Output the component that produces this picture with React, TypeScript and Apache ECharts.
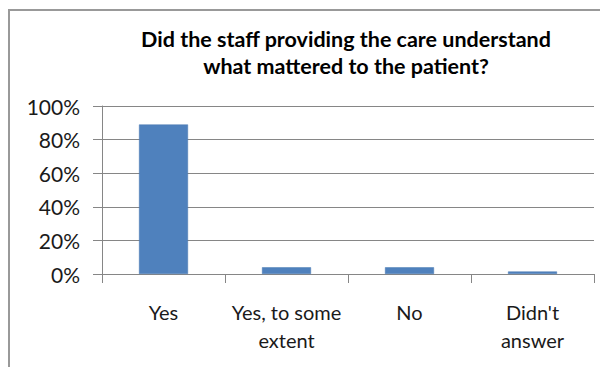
import React, { useEffect, useRef } from "react";
import * as echarts from "echarts";

const titleLines = ["Did the staff providing the care understand", "what mattered to the patient?"];
const categories = ["Yes", "Yes, to some extent", "No", "Didn't answer"];
const categoryLabels = ["Yes", "Yes, to some\nextent", "No", "Didn't\nanswer"];
const values = [89, 4, 4, 1.5];
const yTicks = [0, 20, 40, 60, 80, 100];

export default function App() {
  const ref = useRef<HTMLDivElement>(null);
  useEffect(() => {
    if (!ref.current) return;
    const chart = echarts.init(ref.current, null, { renderer: "svg" });
    chart.setOption({
      animation: false,
      backgroundColor: "#ffffff",
      textStyle: { fontFamily: "Lato" },
      graphic: [
        {
          type: "rect",
          shape: { x: 9, y: 10, width: 700, height: 500 },
          style: { fill: "none", stroke: "#999999", lineWidth: 2 },
          silent: true,
        },
        {
          type: "text",
          x: 346,
          y: 52,
          style: {
            text: titleLines.join("\n"),
            textAlign: "center",
            textVerticalAlign: "middle",
            font: "bold 21.5px Lato",
            lineHeight: 27,
            fill: "#000000",
          },
        },
      ],
      grid: { left: 102, right: 6, top: 106, bottom: 93, containLabel: false },
      xAxis: {
        type: "category",
        data: categories,
        axisLine: { lineStyle: { color: "#868686", width: 1 } },
        axisTick: { show: true, length: 9, lineStyle: { color: "#868686" } },
        axisLabel: {
          formatter: (_v: string, i: number) => categoryLabels[i],
          fontSize: 20,
          color: "#1a1a1a",
          fontFamily: "Lato",
          margin: 24,
          lineHeight: 28,
          interval: 0,
        },
        splitLine: { show: false },
      },
      yAxis: {
        type: "value",
        min: yTicks[0],
        max: yTicks[yTicks.length - 1],
        interval: 20,
        axisLine: { show: true, lineStyle: { color: "#868686" } },
        axisTick: { show: true, length: 9, lineStyle: { color: "#868686" } },
        axisLabel: {
          formatter: "{value}%",
          fontSize: 21,
          color: "#1a1a1a",
          fontFamily: "Lato",
          margin: 22,
        },
        splitLine: { show: true, lineStyle: { color: "#868686", width: 1 } },
      },
      series: [
        {
          type: "bar",
          data: values,
          barWidth: 49,
          itemStyle: { color: "#4F81BD", borderColor: "#4a7ab3", borderWidth: 0.5 },
        },
      ],
    });
    return () => chart.dispose();
  }, []);
  return (
    <div
      ref={ref}
      style={{ position: "absolute", left: 0, top: 0, width: 600, height: 367 }}
    />
  );
}
